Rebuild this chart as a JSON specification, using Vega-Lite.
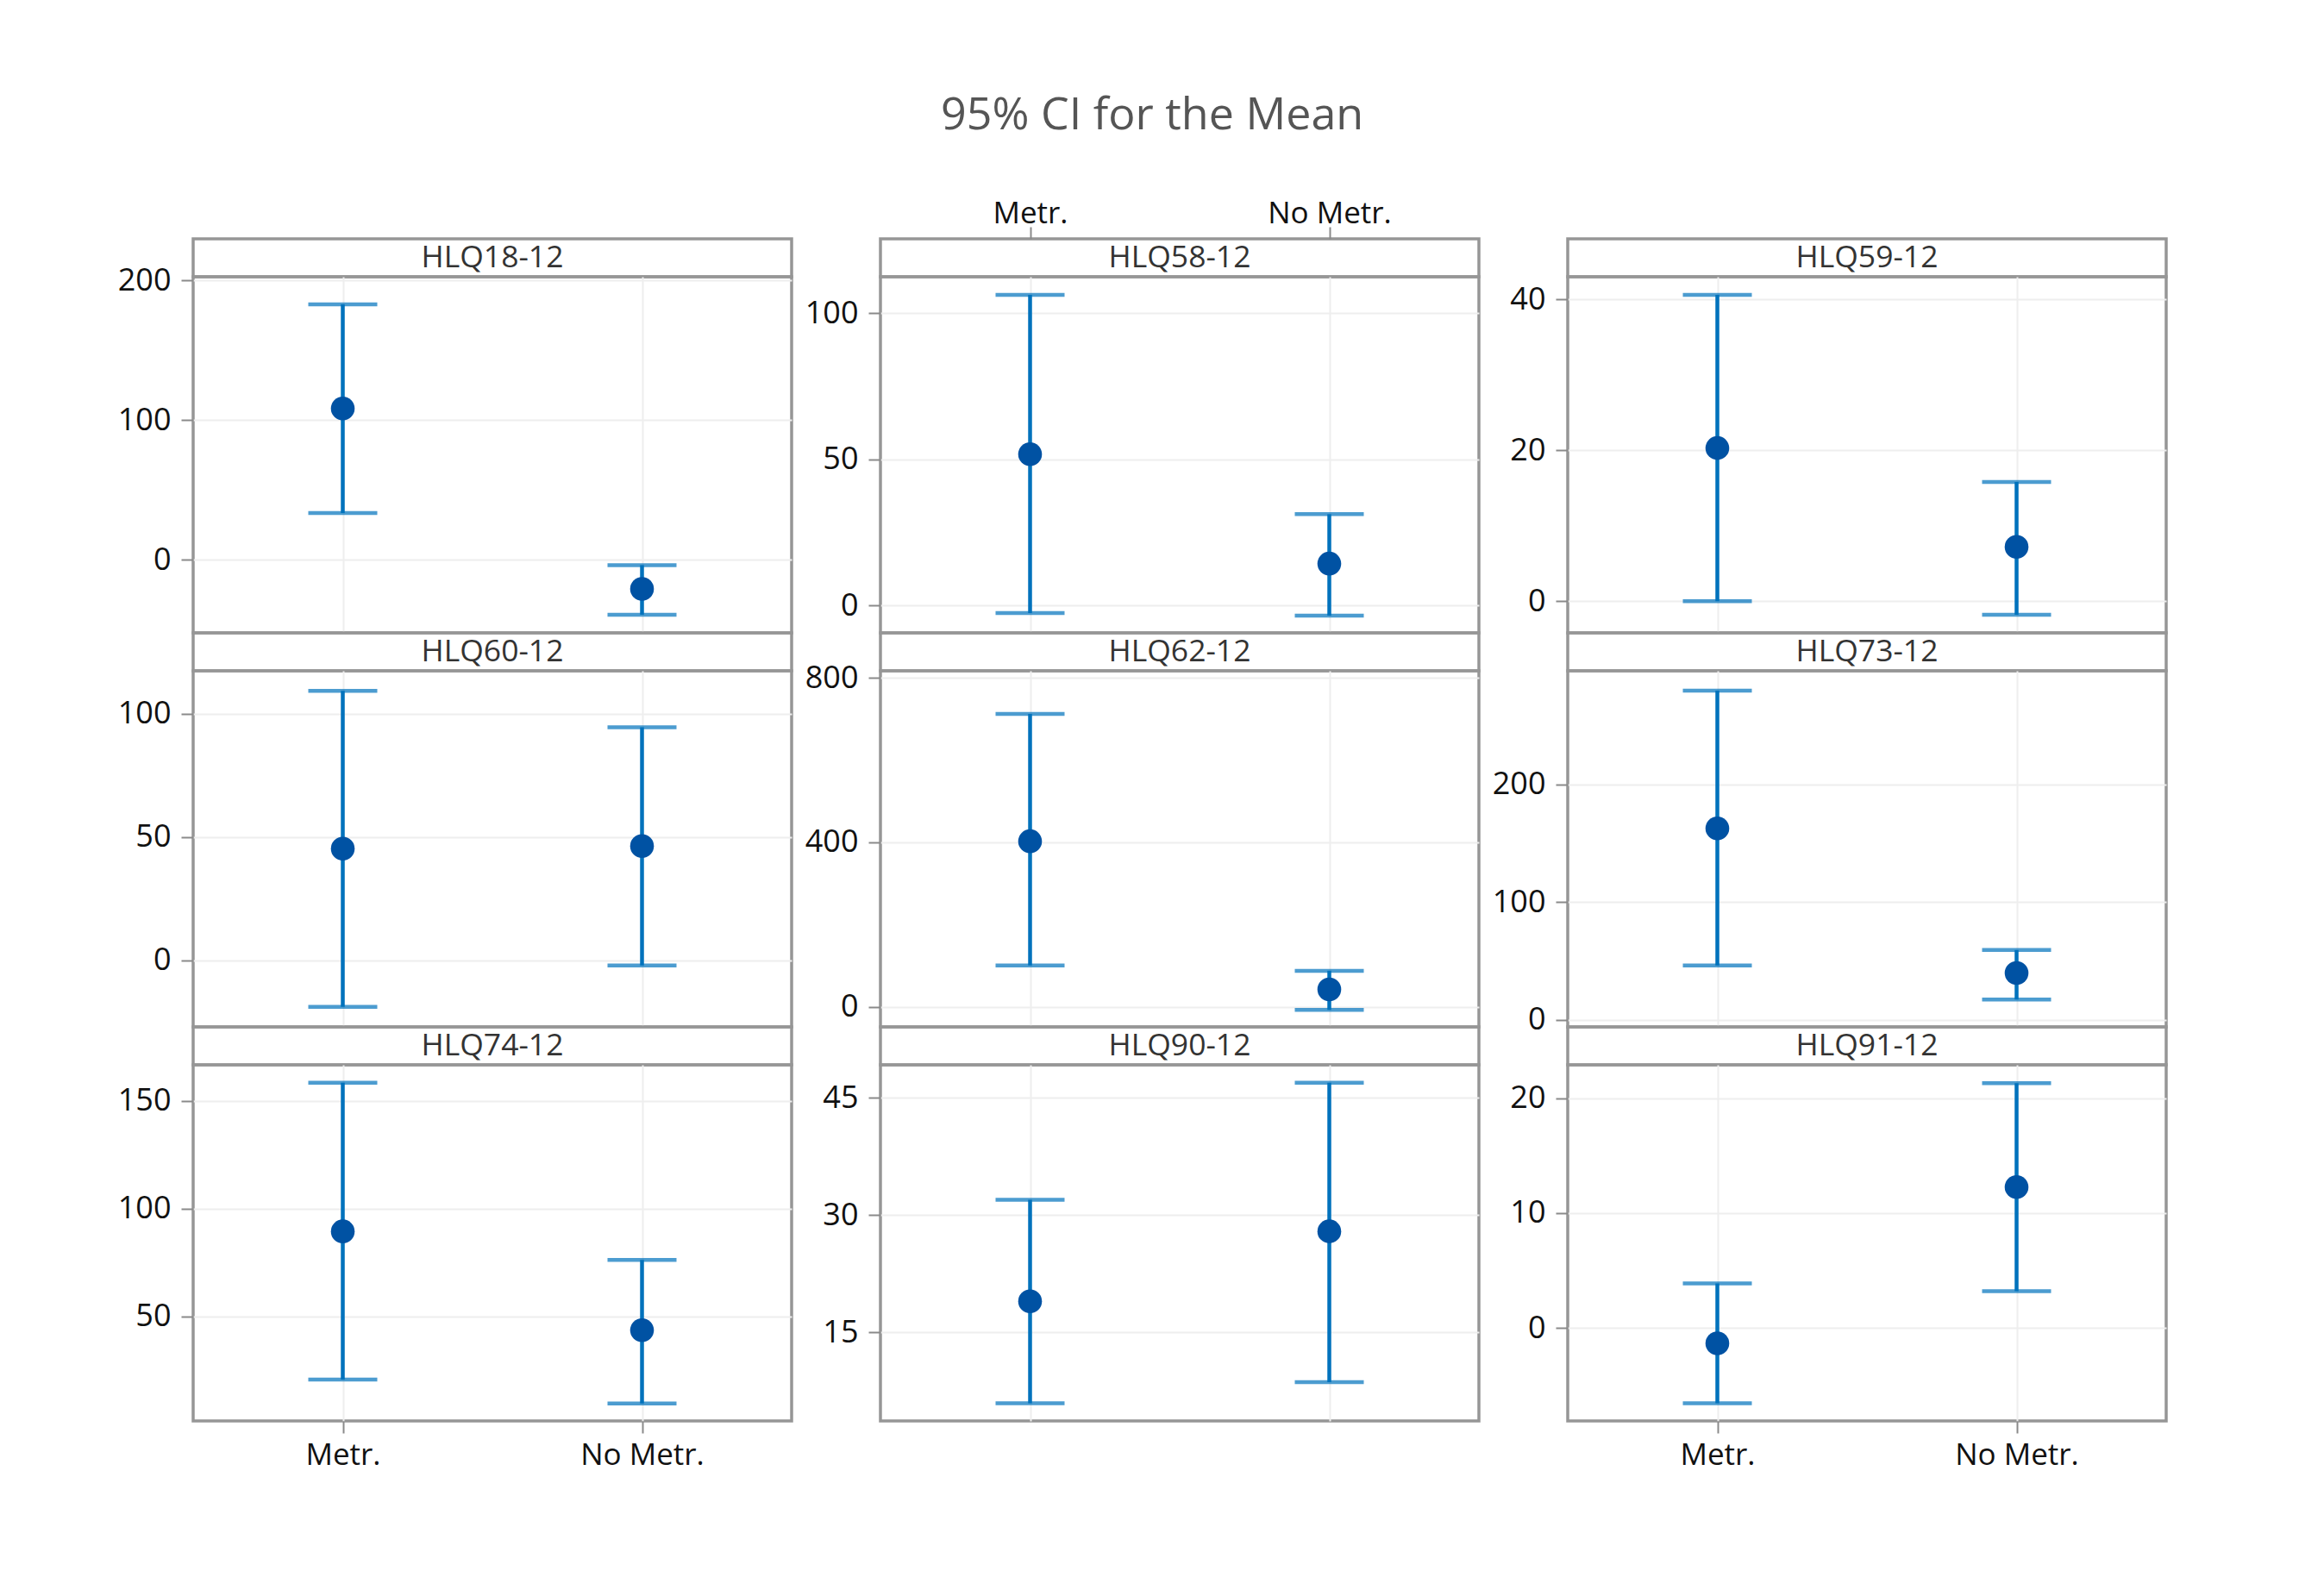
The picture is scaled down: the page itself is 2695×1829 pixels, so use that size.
{
  "$schema": "https://vega.github.io/schema/vega-lite/v6.json",
  "background": "white",
  "autosize": {"type": "pad"},
  "padding": {"left": 134, "top": 108, "right": 20, "bottom": 20},
  "title": {"text": "95% CI for the Mean", "font": "Open Sans", "fontSize": 52, "fontWeight": "normal", "color": "#555555", "anchor": "middle", "offset": 67, "dx": 12},
  "config": {
    "font": "Open Sans",
    "view": {"stroke": "#969696", "strokeWidth": 3.5},
    "axis": {"labelFont": "Open Sans", "labelFontSize": 36, "labelColor": "#111111", "tickColor": "#8a8a8a", "tickSize": 14, "tickWidth": 2, "domain": false, "gridColor": "#eeeeee", "gridWidth": 2, "labelPadding": 12},
    "axisX": {"labelFontSize": 35}
  },
  "data": {"values": [
    {"panel": "HLQ18-12", "group": "Metr.", "mean": 108.2, "lo": 33.4, "hi": 182.8},
    {"panel": "HLQ18-12", "group": "No Metr.", "mean": -20.9, "lo": -39.4, "hi": -3.9},
    {"panel": "HLQ58-12", "group": "Metr.", "mean": 51.7, "lo": -2.6, "hi": 106.2},
    {"panel": "HLQ58-12", "group": "No Metr.", "mean": 14.3, "lo": -3.5, "hi": 31.2},
    {"panel": "HLQ59-12", "group": "Metr.", "mean": 20.3, "lo": 0.0, "hi": 40.6},
    {"panel": "HLQ59-12", "group": "No Metr.", "mean": 7.2, "lo": -1.8, "hi": 15.8},
    {"panel": "HLQ60-12", "group": "Metr.", "mean": 45.2, "lo": -19.0, "hi": 109.3},
    {"panel": "HLQ60-12", "group": "No Metr.", "mean": 46.3, "lo": -2.2, "hi": 94.5},
    {"panel": "HLQ62-12", "group": "Metr.", "mean": 402.8, "lo": 100.7, "hi": 711.9},
    {"panel": "HLQ62-12", "group": "No Metr.", "mean": 42.7, "lo": -7.0, "hi": 88.1},
    {"panel": "HLQ73-12", "group": "Metr.", "mean": 162.8, "lo": 46.2, "hi": 279.7},
    {"panel": "HLQ73-12", "group": "No Metr.", "mean": 39.9, "lo": 17.4, "hi": 59.4},
    {"panel": "HLQ74-12", "group": "Metr.", "mean": 89.5, "lo": 20.7, "hi": 158.5},
    {"panel": "HLQ74-12", "group": "No Metr.", "mean": 43.6, "lo": 9.6, "hi": 76.2},
    {"panel": "HLQ90-12", "group": "Metr.", "mean": 18.95, "lo": 5.9, "hi": 31.95},
    {"panel": "HLQ90-12", "group": "No Metr.", "mean": 27.9, "lo": 8.6, "hi": 46.9},
    {"panel": "HLQ91-12", "group": "Metr.", "mean": -1.35, "lo": -6.57, "hi": 3.87},
    {"panel": "HLQ91-12", "group": "No Metr.", "mean": 12.26, "lo": 3.19, "hi": 21.3}
  ]},
  "columns": 3,
  "spacing": {"row": 0, "column": 103},
  "bounds": "flush",
  "concat": [
    {"width": 694, "height": 44, "transform": [{"filter": "datum.panel == 'HLQ18-12'"}],
     "layer": [
       {"transform": [{"filter": "datum.group == 'Metr.'"}], "mark": {"type": "text", "fontSize": 35.5, "color": "#333333", "font": "Open Sans"}, "encoding": {"text": {"field": "panel"}}},
       {"mark": {"type": "point", "opacity": 0}, "encoding": {"x": {"field": "group", "type": "nominal", "scale": {"type": "point", "padding": 0.5}, "axis": null}}}
     ]},
    {"width": 694, "height": 44, "transform": [{"filter": "datum.panel == 'HLQ58-12'"}],
     "layer": [
       {"transform": [{"filter": "datum.group == 'Metr.'"}], "mark": {"type": "text", "fontSize": 35.5, "color": "#333333", "font": "Open Sans"}, "encoding": {"text": {"field": "panel"}}},
       {"mark": {"type": "point", "opacity": 0}, "encoding": {"x": {"field": "group", "type": "nominal", "scale": {"type": "point", "padding": 0.5}, "axis": {"orient": "top", "title": null, "grid": false, "labelAngle": 0, "labelPadding": -2}}}}
     ]},
    {"width": 694, "height": 44, "transform": [{"filter": "datum.panel == 'HLQ59-12'"}],
     "layer": [
       {"transform": [{"filter": "datum.group == 'Metr.'"}], "mark": {"type": "text", "fontSize": 35.5, "color": "#333333", "font": "Open Sans"}, "encoding": {"text": {"field": "panel"}}},
       {"mark": {"type": "point", "opacity": 0}, "encoding": {"x": {"field": "group", "type": "nominal", "scale": {"type": "point", "padding": 0.5}, "axis": null}}}
     ]},

    {"width": 694, "height": 413, "transform": [{"filter": "datum.panel == 'HLQ18-12'"}],
     "encoding": {"x": {"field": "group", "type": "nominal", "scale": {"type": "point", "padding": 0.5}, "axis": {"title": null, "grid": true, "labels": false, "ticks": false}}},
     "layer": [
       {"mark": {"type": "rule", "color": "#0072BC", "strokeWidth": 4.5}, "encoding": {"y": {"field": "lo", "type": "quantitative", "title": null, "scale": {"domain": [-52.4, 202.5], "nice": false, "zero": false}, "axis": {"values": [0, 100, 200]}}, "y2": {"field": "hi"}}},
       {"mark": {"type": "tick", "color": "#0072BC", "thickness": 4.5, "size": 80}, "encoding": {"y": {"field": "lo", "type": "quantitative", "title": null, "scale": {"domain": [-52.4, 202.5], "nice": false, "zero": false}}}},
       {"mark": {"type": "tick", "color": "#0072BC", "thickness": 4.5, "size": 80}, "encoding": {"y": {"field": "hi", "type": "quantitative", "title": null, "scale": {"domain": [-52.4, 202.5], "nice": false, "zero": false}}}},
       {"mark": {"type": "point", "filled": true, "color": "#0052A3", "opacity": 1, "size": 760}, "encoding": {"y": {"field": "mean", "type": "quantitative", "title": null, "scale": {"domain": [-52.4, 202.5], "nice": false, "zero": false}}}}
     ]},
    {"width": 694, "height": 413, "transform": [{"filter": "datum.panel == 'HLQ58-12'"}],
     "encoding": {"x": {"field": "group", "type": "nominal", "scale": {"type": "point", "padding": 0.5}, "axis": {"title": null, "grid": true, "labels": false, "ticks": false}}},
     "layer": [
       {"mark": {"type": "rule", "color": "#0072BC", "strokeWidth": 4.5}, "encoding": {"y": {"field": "lo", "type": "quantitative", "title": null, "scale": {"domain": [-9.4, 112.4], "nice": false, "zero": false}, "axis": {"values": [0, 50, 100]}}, "y2": {"field": "hi"}}},
       {"mark": {"type": "tick", "color": "#0072BC", "thickness": 4.5, "size": 80}, "encoding": {"y": {"field": "lo", "type": "quantitative", "title": null, "scale": {"domain": [-9.4, 112.4], "nice": false, "zero": false}}}},
       {"mark": {"type": "tick", "color": "#0072BC", "thickness": 4.5, "size": 80}, "encoding": {"y": {"field": "hi", "type": "quantitative", "title": null, "scale": {"domain": [-9.4, 112.4], "nice": false, "zero": false}}}},
       {"mark": {"type": "point", "filled": true, "color": "#0052A3", "opacity": 1, "size": 760}, "encoding": {"y": {"field": "mean", "type": "quantitative", "title": null, "scale": {"domain": [-9.4, 112.4], "nice": false, "zero": false}}}}
     ]},
    {"width": 694, "height": 413, "transform": [{"filter": "datum.panel == 'HLQ59-12'"}],
     "encoding": {"x": {"field": "group", "type": "nominal", "scale": {"type": "point", "padding": 0.5}, "axis": {"title": null, "grid": true, "labels": false, "ticks": false}}},
     "layer": [
       {"mark": {"type": "rule", "color": "#0072BC", "strokeWidth": 4.5}, "encoding": {"y": {"field": "lo", "type": "quantitative", "title": null, "scale": {"domain": [-4.2, 43.0], "nice": false, "zero": false}, "axis": {"values": [0, 20, 40]}}, "y2": {"field": "hi"}}},
       {"mark": {"type": "tick", "color": "#0072BC", "thickness": 4.5, "size": 80}, "encoding": {"y": {"field": "lo", "type": "quantitative", "title": null, "scale": {"domain": [-4.2, 43.0], "nice": false, "zero": false}}}},
       {"mark": {"type": "tick", "color": "#0072BC", "thickness": 4.5, "size": 80}, "encoding": {"y": {"field": "hi", "type": "quantitative", "title": null, "scale": {"domain": [-4.2, 43.0], "nice": false, "zero": false}}}},
       {"mark": {"type": "point", "filled": true, "color": "#0052A3", "opacity": 1, "size": 760}, "encoding": {"y": {"field": "mean", "type": "quantitative", "title": null, "scale": {"domain": [-4.2, 43.0], "nice": false, "zero": false}}}}
     ]},

    {"width": 694, "height": 44, "transform": [{"filter": "datum.panel == 'HLQ60-12'"}],
     "layer": [
       {"transform": [{"filter": "datum.group == 'Metr.'"}], "mark": {"type": "text", "fontSize": 35.5, "color": "#333333", "font": "Open Sans"}, "encoding": {"text": {"field": "panel"}}},
       {"mark": {"type": "point", "opacity": 0}, "encoding": {"x": {"field": "group", "type": "nominal", "scale": {"type": "point", "padding": 0.5}, "axis": null}}}
     ]},
    {"width": 694, "height": 44, "transform": [{"filter": "datum.panel == 'HLQ62-12'"}],
     "layer": [
       {"transform": [{"filter": "datum.group == 'Metr.'"}], "mark": {"type": "text", "fontSize": 35.5, "color": "#333333", "font": "Open Sans"}, "encoding": {"text": {"field": "panel"}}},
       {"mark": {"type": "point", "opacity": 0}, "encoding": {"x": {"field": "group", "type": "nominal", "scale": {"type": "point", "padding": 0.5}, "axis": null}}}
     ]},
    {"width": 694, "height": 44, "transform": [{"filter": "datum.panel == 'HLQ73-12'"}],
     "layer": [
       {"transform": [{"filter": "datum.group == 'Metr.'"}], "mark": {"type": "text", "fontSize": 35.5, "color": "#333333", "font": "Open Sans"}, "encoding": {"text": {"field": "panel"}}},
       {"mark": {"type": "point", "opacity": 0}, "encoding": {"x": {"field": "group", "type": "nominal", "scale": {"type": "point", "padding": 0.5}, "axis": null}}}
     ]},

    {"width": 694, "height": 413, "transform": [{"filter": "datum.panel == 'HLQ60-12'"}],
     "encoding": {"x": {"field": "group", "type": "nominal", "scale": {"type": "point", "padding": 0.5}, "axis": {"title": null, "grid": true, "labels": false, "ticks": false}}},
     "layer": [
       {"mark": {"type": "rule", "color": "#0072BC", "strokeWidth": 4.5}, "encoding": {"y": {"field": "lo", "type": "quantitative", "title": null, "scale": {"domain": [-27.1, 117.4], "nice": false, "zero": false}, "axis": {"values": [0, 50, 100]}}, "y2": {"field": "hi"}}},
       {"mark": {"type": "tick", "color": "#0072BC", "thickness": 4.5, "size": 80}, "encoding": {"y": {"field": "lo", "type": "quantitative", "title": null, "scale": {"domain": [-27.1, 117.4], "nice": false, "zero": false}}}},
       {"mark": {"type": "tick", "color": "#0072BC", "thickness": 4.5, "size": 80}, "encoding": {"y": {"field": "hi", "type": "quantitative", "title": null, "scale": {"domain": [-27.1, 117.4], "nice": false, "zero": false}}}},
       {"mark": {"type": "point", "filled": true, "color": "#0052A3", "opacity": 1, "size": 760}, "encoding": {"y": {"field": "mean", "type": "quantitative", "title": null, "scale": {"domain": [-27.1, 117.4], "nice": false, "zero": false}}}}
     ]},
    {"width": 694, "height": 413, "transform": [{"filter": "datum.panel == 'HLQ62-12'"}],
     "encoding": {"x": {"field": "group", "type": "nominal", "scale": {"type": "point", "padding": 0.5}, "axis": {"title": null, "grid": true, "labels": false, "ticks": false}}},
     "layer": [
       {"mark": {"type": "rule", "color": "#0072BC", "strokeWidth": 4.5}, "encoding": {"y": {"field": "lo", "type": "quantitative", "title": null, "scale": {"domain": [-48.3, 816.8], "nice": false, "zero": false}, "axis": {"values": [0, 400, 800]}}, "y2": {"field": "hi"}}},
       {"mark": {"type": "tick", "color": "#0072BC", "thickness": 4.5, "size": 80}, "encoding": {"y": {"field": "lo", "type": "quantitative", "title": null, "scale": {"domain": [-48.3, 816.8], "nice": false, "zero": false}}}},
       {"mark": {"type": "tick", "color": "#0072BC", "thickness": 4.5, "size": 80}, "encoding": {"y": {"field": "hi", "type": "quantitative", "title": null, "scale": {"domain": [-48.3, 816.8], "nice": false, "zero": false}}}},
       {"mark": {"type": "point", "filled": true, "color": "#0052A3", "opacity": 1, "size": 760}, "encoding": {"y": {"field": "mean", "type": "quantitative", "title": null, "scale": {"domain": [-48.3, 816.8], "nice": false, "zero": false}}}}
     ]},
    {"width": 694, "height": 413, "transform": [{"filter": "datum.panel == 'HLQ73-12'"}],
     "encoding": {"x": {"field": "group", "type": "nominal", "scale": {"type": "point", "padding": 0.5}, "axis": {"title": null, "grid": true, "labels": false, "ticks": false}}},
     "layer": [
       {"mark": {"type": "rule", "color": "#0072BC", "strokeWidth": 4.5}, "encoding": {"y": {"field": "lo", "type": "quantitative", "title": null, "scale": {"domain": [-5.9, 296.6], "nice": false, "zero": false}, "axis": {"values": [0, 100, 200]}}, "y2": {"field": "hi"}}},
       {"mark": {"type": "tick", "color": "#0072BC", "thickness": 4.5, "size": 80}, "encoding": {"y": {"field": "lo", "type": "quantitative", "title": null, "scale": {"domain": [-5.9, 296.6], "nice": false, "zero": false}}}},
       {"mark": {"type": "tick", "color": "#0072BC", "thickness": 4.5, "size": 80}, "encoding": {"y": {"field": "hi", "type": "quantitative", "title": null, "scale": {"domain": [-5.9, 296.6], "nice": false, "zero": false}}}},
       {"mark": {"type": "point", "filled": true, "color": "#0052A3", "opacity": 1, "size": 760}, "encoding": {"y": {"field": "mean", "type": "quantitative", "title": null, "scale": {"domain": [-5.9, 296.6], "nice": false, "zero": false}}}}
     ]},

    {"width": 694, "height": 44, "transform": [{"filter": "datum.panel == 'HLQ74-12'"}],
     "layer": [
       {"transform": [{"filter": "datum.group == 'Metr.'"}], "mark": {"type": "text", "fontSize": 35.5, "color": "#333333", "font": "Open Sans"}, "encoding": {"text": {"field": "panel"}}},
       {"mark": {"type": "point", "opacity": 0}, "encoding": {"x": {"field": "group", "type": "nominal", "scale": {"type": "point", "padding": 0.5}, "axis": null}}}
     ]},
    {"width": 694, "height": 44, "transform": [{"filter": "datum.panel == 'HLQ90-12'"}],
     "layer": [
       {"transform": [{"filter": "datum.group == 'Metr.'"}], "mark": {"type": "text", "fontSize": 35.5, "color": "#333333", "font": "Open Sans"}, "encoding": {"text": {"field": "panel"}}},
       {"mark": {"type": "point", "opacity": 0}, "encoding": {"x": {"field": "group", "type": "nominal", "scale": {"type": "point", "padding": 0.5}, "axis": null}}}
     ]},
    {"width": 694, "height": 44, "transform": [{"filter": "datum.panel == 'HLQ91-12'"}],
     "layer": [
       {"transform": [{"filter": "datum.group == 'Metr.'"}], "mark": {"type": "text", "fontSize": 35.5, "color": "#333333", "font": "Open Sans"}, "encoding": {"text": {"field": "panel"}}},
       {"mark": {"type": "point", "opacity": 0}, "encoding": {"x": {"field": "group", "type": "nominal", "scale": {"type": "point", "padding": 0.5}, "axis": null}}}
     ]},

    {"width": 694, "height": 413, "transform": [{"filter": "datum.panel == 'HLQ74-12'"}],
     "encoding": {"x": {"field": "group", "type": "nominal", "scale": {"type": "point", "padding": 0.5}, "axis": {"title": null, "grid": true, "labelAngle": 0, "labelPadding": 8}}},
     "layer": [
       {"mark": {"type": "rule", "color": "#0072BC", "strokeWidth": 4.5}, "encoding": {"y": {"field": "lo", "type": "quantitative", "title": null, "scale": {"domain": [1.5, 166.8], "nice": false, "zero": false}, "axis": {"values": [50, 100, 150]}}, "y2": {"field": "hi"}}},
       {"mark": {"type": "tick", "color": "#0072BC", "thickness": 4.5, "size": 80}, "encoding": {"y": {"field": "lo", "type": "quantitative", "title": null, "scale": {"domain": [1.5, 166.8], "nice": false, "zero": false}}}},
       {"mark": {"type": "tick", "color": "#0072BC", "thickness": 4.5, "size": 80}, "encoding": {"y": {"field": "hi", "type": "quantitative", "title": null, "scale": {"domain": [1.5, 166.8], "nice": false, "zero": false}}}},
       {"mark": {"type": "point", "filled": true, "color": "#0052A3", "opacity": 1, "size": 760}, "encoding": {"y": {"field": "mean", "type": "quantitative", "title": null, "scale": {"domain": [1.5, 166.8], "nice": false, "zero": false}}}}
     ]},
    {"width": 694, "height": 413, "transform": [{"filter": "datum.panel == 'HLQ90-12'"}],
     "encoding": {"x": {"field": "group", "type": "nominal", "scale": {"type": "point", "padding": 0.5}, "axis": {"title": null, "grid": true, "labels": false, "ticks": false}}},
     "layer": [
       {"mark": {"type": "rule", "color": "#0072BC", "strokeWidth": 4.5}, "encoding": {"y": {"field": "lo", "type": "quantitative", "title": null, "scale": {"domain": [3.65, 49.2], "nice": false, "zero": false}, "axis": {"values": [15, 30, 45]}}, "y2": {"field": "hi"}}},
       {"mark": {"type": "tick", "color": "#0072BC", "thickness": 4.5, "size": 80}, "encoding": {"y": {"field": "lo", "type": "quantitative", "title": null, "scale": {"domain": [3.65, 49.2], "nice": false, "zero": false}}}},
       {"mark": {"type": "tick", "color": "#0072BC", "thickness": 4.5, "size": 80}, "encoding": {"y": {"field": "hi", "type": "quantitative", "title": null, "scale": {"domain": [3.65, 49.2], "nice": false, "zero": false}}}},
       {"mark": {"type": "point", "filled": true, "color": "#0052A3", "opacity": 1, "size": 760}, "encoding": {"y": {"field": "mean", "type": "quantitative", "title": null, "scale": {"domain": [3.65, 49.2], "nice": false, "zero": false}}}}
     ]},
    {"width": 694, "height": 413, "transform": [{"filter": "datum.panel == 'HLQ91-12'"}],
     "encoding": {"x": {"field": "group", "type": "nominal", "scale": {"type": "point", "padding": 0.5}, "axis": {"title": null, "grid": true, "labelAngle": 0, "labelPadding": 8}}},
     "layer": [
       {"mark": {"type": "rule", "color": "#0072BC", "strokeWidth": 4.5}, "encoding": {"y": {"field": "lo", "type": "quantitative", "title": null, "scale": {"domain": [-8.1, 22.9], "nice": false, "zero": false}, "axis": {"values": [0, 10, 20]}}, "y2": {"field": "hi"}}},
       {"mark": {"type": "tick", "color": "#0072BC", "thickness": 4.5, "size": 80}, "encoding": {"y": {"field": "lo", "type": "quantitative", "title": null, "scale": {"domain": [-8.1, 22.9], "nice": false, "zero": false}}}},
       {"mark": {"type": "tick", "color": "#0072BC", "thickness": 4.5, "size": 80}, "encoding": {"y": {"field": "hi", "type": "quantitative", "title": null, "scale": {"domain": [-8.1, 22.9], "nice": false, "zero": false}}}},
       {"mark": {"type": "point", "filled": true, "color": "#0052A3", "opacity": 1, "size": 760}, "encoding": {"y": {"field": "mean", "type": "quantitative", "title": null, "scale": {"domain": [-8.1, 22.9], "nice": false, "zero": false}}}}
     ]}
  ]
}
